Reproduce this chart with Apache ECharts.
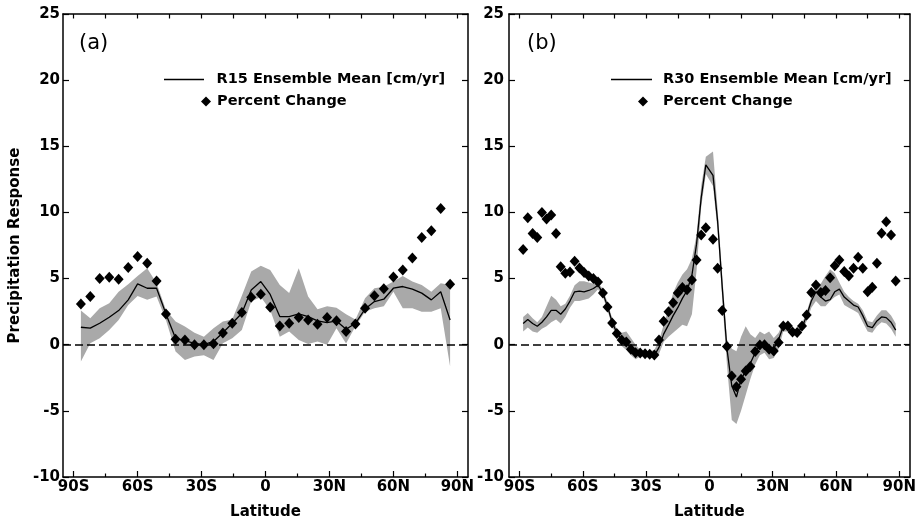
<!DOCTYPE html>
<html>
<head>
<meta charset="utf-8">
<script src="https://cdn.jsdelivr.net/npm/echarts@6/dist/echarts.min.js"></script>
<style>
html, body { margin: 0; background: #fff; }
#main { width: 919px; height: 528px; }
</style>
</head>
<body>
<div id="main"></div>
<script>
// R15 Gaussian latitudes (S negative)
var latR15 = [-86.6,-82.2,-77.8,-73.3,-68.9,-64.4,-60.0,-55.5,-51.1,-46.7,-42.2,-37.8,-33.3,-28.9,-24.4,-20.0,-15.6,-11.1,-6.7,-2.2,
              2.2,6.7,11.1,15.6,20.0,24.4,28.9,33.3,37.8,42.2,46.7,51.1,55.5,60.0,64.4,68.9,73.3,77.8,82.2,86.6];
var meanR15 = [1.32,1.25,1.62,2.08,2.58,3.39,4.6,4.27,4.27,2.33,0.49,0.3,0.1,0.0,0.25,0.9,1.62,2.38,4.14,4.77,
               3.8,2.13,2.13,2.33,2.13,1.8,1.67,1.8,1.17,1.62,2.7,3.26,3.44,4.27,4.4,4.2,3.9,3.39,4.0,1.87];
var upperR15 = [2.58,2.0,2.76,3.14,4.0,4.57,5.2,5.78,4.65,2.63,1.75,1.37,0.91,0.61,1.25,1.75,1.9,3.7,5.53,5.96,
                5.65,4.52,3.9,5.78,3.64,2.68,2.9,2.8,2.3,1.9,3.51,4.27,4.39,4.77,5.2,4.77,4.52,4.0,4.65,4.52];
var lowerR15 = [-1.27,0.11,0.49,1.12,1.87,3.0,3.69,3.39,3.64,1.87,-0.52,-1.15,-0.9,-0.8,-1.15,0.11,0.49,1.12,3.26,3.6,
                2.63,0.61,0.99,0.36,0.06,0.25,0.0,1.25,0.1,1.4,2.5,2.76,2.9,4.0,2.76,2.76,2.5,2.5,2.76,-1.65];
var pctR15 = [3.08,3.64,5.0,5.1,4.95,5.83,6.66,6.16,4.82,2.33,0.41,0.36,0.0,0.0,0.08,0.89,1.62,2.43,3.59,3.82,
              2.83,1.42,1.62,2.05,1.87,1.55,2.05,1.82,0.99,1.57,2.76,3.71,4.24,5.12,5.65,6.56,8.1,8.62,10.29,4.57];

// R30 Gaussian latitudes
var latR30 = [-88.3,-86.1,-83.8,-81.6,-79.4,-77.2,-75.0,-72.7,-70.5,-68.3,-66.1,-63.9,-61.6,-59.4,-57.2,-55.0,-52.8,-50.5,-48.3,-46.1,
              -43.9,-41.6,-39.4,-37.2,-35.0,-32.8,-30.5,-28.3,-26.1,-23.9,-21.7,-19.4,-17.2,-15.0,-12.8,-10.6,-8.3,-6.1,-3.9,-1.7,
              1.7,3.9,6.1,8.3,10.6,12.8,15.0,17.2,19.4,21.7,23.9,26.1,28.3,30.5,32.8,35.0,37.2,39.4,41.6,43.9,
              46.1,48.3,50.5,52.8,55.0,57.2,59.4,61.6,63.9,66.1,68.3,70.5,72.7,75.0,77.2,79.4,81.6,83.8,86.1,88.3];
var meanR30 = [1.6,1.9,1.6,1.4,1.7,2.1,2.6,2.6,2.3,2.7,3.3,4.0,4.05,4.0,4.1,4.25,4.5,3.9,2.9,1.7,
               0.9,0.4,0.2,-0.3,-0.6,-0.7,-0.72,-0.75,-0.8,-0.2,0.8,1.5,2.2,2.8,3.5,4.1,5.25,7.6,11.1,13.6,
               12.8,9.3,4.3,-0.3,-3.1,-3.95,-2.6,-2.0,-1.4,-0.6,-0.05,-0.1,-0.3,-0.3,0.4,1.4,1.3,0.95,0.9,1.3,
               2.2,3.3,4.0,3.6,3.3,3.4,4.0,4.2,3.6,3.3,3.0,2.85,2.2,1.4,1.3,1.8,2.1,2.05,1.7,1.1];
var upperR30 = [2.1,2.4,2.0,1.7,2.1,2.9,3.7,3.4,2.9,3.1,3.7,4.5,4.8,4.8,4.7,4.6,4.7,4.2,3.2,2.0,
                1.2,0.9,1.0,0.5,0.0,-0.4,-0.5,-0.5,-0.4,0.3,1.5,2.7,3.9,4.7,5.3,5.7,6.5,8.3,12.0,14.2,
                14.6,10.2,5.2,0.4,-0.3,-0.5,0.6,1.4,0.8,0.5,1.0,0.8,1.0,0.5,0.9,1.7,1.6,1.2,1.1,1.6,
                2.5,3.6,4.6,4.6,5.2,5.7,5.4,4.7,4.0,3.6,3.3,3.1,2.6,1.8,1.7,2.2,2.6,2.6,2.2,1.6];
var lowerR30 = [1.0,1.3,1.0,0.9,1.2,1.4,1.7,1.9,1.6,2.1,2.8,3.3,3.3,3.4,3.5,3.8,4.2,3.6,2.6,1.4,
                0.6,-0.1,-0.4,-0.8,-1.1,-0.9,-0.9,-1.0,-1.0,-0.7,0.2,0.6,0.9,1.2,1.5,1.4,2.3,5.6,10.4,12.9,
                12.0,8.6,3.4,-1.5,-5.7,-6.0,-5.0,-3.8,-2.6,-1.5,-0.8,-0.6,-1.1,-1.0,-0.3,1.0,1.0,0.7,0.6,1.0,
                1.8,2.8,3.3,2.9,2.9,3.3,3.6,3.8,3.0,2.8,2.6,2.4,1.7,1.0,0.9,1.4,1.7,1.6,1.2,0.6];
var pctR30 = [7.2,9.6,8.4,8.1,10.0,9.5,9.8,8.4,5.9,5.4,5.5,6.3,5.8,5.45,5.2,5.0,4.75,3.9,2.85,1.65,
              0.85,0.35,0.2,-0.35,-0.6,-0.62,-0.68,-0.72,-0.78,0.36,1.78,2.5,3.18,3.9,4.33,4.15,4.9,6.4,8.3,8.85,
              7.97,5.78,2.58,-0.14,-2.36,-3.17,-2.61,-1.98,-1.65,-0.52,-0.02,0.0,-0.34,-0.48,0.16,1.42,1.42,0.97,0.92,1.42,
              2.25,3.94,4.52,3.94,4.09,5.07,5.96,6.41,5.53,5.2,5.78,6.61,5.78,4.01,4.35,6.16,8.43,9.3,8.3,4.82];

var tickLats = [-90, -60, -30, 0, 30, 60, 90];
var tickLabels = ['90S', '60S', '30S', '0', '30N', '60N', '90N'];
var minorLats = [-75, -45, -15, 15, 45, 75];
var allLats = [-90, -75, -60, -45, -30, -15, 0, 15, 30, 45, 60, 75, 90];

var FONT = 'DejaVu Sans';
var myChart = echarts.init(document.getElementById('main'));

function pairs(x, y) {
    return x.map(function (v, i) { return [v, y[i]]; });
}

function frameLine() {
    return { show: true, onZero: false, lineStyle: { color: '#000', width: 1.5 } };
}

function xAxes(g) {
    return [
        {
            type: 'value', gridIndex: g, position: 'bottom', min: -95, max: 95,
            axisLine: frameLine(), splitLine: { show: false },
            axisTick: { inside: true, length: 6, customValues: tickLats, lineStyle: { color: '#000', width: 1.2 } },
            axisLabel: {
                customValues: tickLats, margin: 3, color: '#000', fontFamily: FONT, fontWeight: 'bold', fontSize: 15,
                formatter: function (v) { var i = tickLats.indexOf(v); return i >= 0 ? tickLabels[i] : ''; }
            },
            name: 'Latitude', nameLocation: 'middle', nameGap: 28,
            nameTextStyle: { color: '#000', fontFamily: FONT, fontWeight: 'bold', fontSize: 15 }
        },
        {
            type: 'value', gridIndex: g, position: 'bottom', min: -95, max: 95,
            axisLine: { show: false, onZero: false }, splitLine: { show: false }, axisLabel: { show: false },
            axisTick: { inside: true, length: 3.5, customValues: minorLats, lineStyle: { color: '#000', width: 1.2 } }
        },
        {
            type: 'value', gridIndex: g, position: 'top', min: -95, max: 95,
            axisLine: frameLine(), splitLine: { show: false }, axisLabel: { show: false },
            axisTick: { inside: true, length: 4.5, customValues: allLats, lineStyle: { color: '#000', width: 1.2 } }
        }
    ];
}

function yAxes(g, withName, margin) {
    var left = {
        type: 'value', gridIndex: g, position: 'left', min: -10, max: 25, interval: 5,
        axisLine: frameLine(), splitLine: { show: false },
        axisTick: { inside: true, length: 6, lineStyle: { color: '#000', width: 1.2 } },
        axisLabel: { margin: margin, color: '#000', fontFamily: FONT, fontWeight: 'bold', fontSize: 15 }
    };
    if (withName) {
        left.name = 'Precipitation Response';
        left.nameLocation = 'middle';
        left.nameGap = 40;
        left.nameTextStyle = { color: '#000', fontFamily: FONT, fontWeight: 'bold', fontSize: 15 };
    }
    return [left, {
        type: 'value', gridIndex: g, position: 'right', min: -10, max: 25, interval: 5,
        axisLine: frameLine(), splitLine: { show: false }, axisLabel: { show: false },
        axisTick: { inside: true, length: 6, lineStyle: { color: '#000', width: 1.2 } }
    }];
}

function panelSeries(g, lat, mean, upper, lower, pct, meanName) {
    return [
        {
            type: 'custom', name: 'spread', xAxisIndex: g * 3, yAxisIndex: g * 2, z: 1, silent: true, clip: true,
            data: lat.map(function (v, i) { return [v, lower[i], upper[i]]; }),
            encode: { x: 0, y: [1, 2] },
            renderItem: function (params, api) {
                if (params.dataIndex !== 0) return null;
                var pts = [];
                for (var i = 0; i < lat.length; i++) pts.push(api.coord([lat[i], upper[i]]));
                for (var j = lat.length - 1; j >= 0; j--) pts.push(api.coord([lat[j], lower[j]]));
                return { type: 'polygon', shape: { points: pts }, style: { fill: '#a9a9a9' } };
            }
        },
        {
            type: 'line', name: meanName, xAxisIndex: g * 3, yAxisIndex: g * 2, z: 3,
            data: pairs(lat, mean), symbol: 'none',
            itemStyle: { color: '#000' },
            lineStyle: { color: '#000', width: 1.3 },
            markLine: {
                silent: true, symbol: ['none', 'none'], label: { show: false },
                lineStyle: { color: '#000', type: [8, 4], width: 1.5 },
                data: [{ yAxis: 0 }]
            }
        },
        {
            type: 'scatter', name: 'Percent Change', xAxisIndex: g * 3, yAxisIndex: g * 2, z: 4,
            data: pairs(lat, pct), symbol: 'diamond', symbolSize: [10, 11],
            itemStyle: { color: '#000', opacity: 1 }
        }
    ];
}

function legendText(pad) {
    return { color: '#000', fontFamily: FONT, fontWeight: 'bold', fontSize: 14.5, lineHeight: 17, padding: [0, 0, 0, pad] };
}

var option = {
    animation: false,
    backgroundColor: '#fff',
    title: [
        { text: '(a)', left: 79, top: 33, padding: 0, textStyle: { color: '#000', fontFamily: FONT, fontWeight: 'normal', fontSize: 21 } },
        { text: '(b)', left: 527, top: 33, padding: 0, textStyle: { color: '#000', fontFamily: FONT, fontWeight: 'normal', fontSize: 21 } }
    ],
    legend: [
        { data: [{ name: 'R15 Ensemble Mean [cm/yr]', icon: 'rect' }], left: 164, top: 71, padding: 0, itemWidth: 40, itemHeight: 1.5, selectedMode: false, textStyle: legendText(7.5) },
        { data: [{ name: 'Percent Change', icon: 'diamond', itemStyle: { color: '#000', opacity: 1 } }], left: 201, top: 93, padding: 0, itemWidth: 10, itemHeight: 10, selectedMode: false, textStyle: legendText(1) },
        { data: [{ name: 'R30 Ensemble Mean [cm/yr]', icon: 'rect' }], left: 611, top: 71, padding: 0, itemWidth: 41, itemHeight: 1.5, selectedMode: false, textStyle: legendText(6) },
        { data: [{ name: 'Percent Change', icon: 'diamond', itemStyle: { color: '#000', opacity: 1 } }], left: 638, top: 93, padding: 0, itemWidth: 10, itemHeight: 10, selectedMode: false, textStyle: legendText(10) }
    ],
    grid: [
        { left: 63, top: 14, width: 405, height: 463 },
        { left: 509, top: 14, width: 404, height: 463 }
    ],
    xAxis: xAxes(0).concat(xAxes(1)),
    yAxis: yAxes(0, true, 3).concat(yAxes(1, false, 5)),
    series: panelSeries(0, latR15, meanR15, upperR15, lowerR15, pctR15, 'R15 Ensemble Mean [cm/yr]')
        .concat(panelSeries(1, latR30, meanR30, upperR30, lowerR30, pctR30, 'R30 Ensemble Mean [cm/yr]'))
};

myChart.setOption(option);
window.addEventListener('resize', function () { myChart.resize(); });
</script>
</body>
</html>
